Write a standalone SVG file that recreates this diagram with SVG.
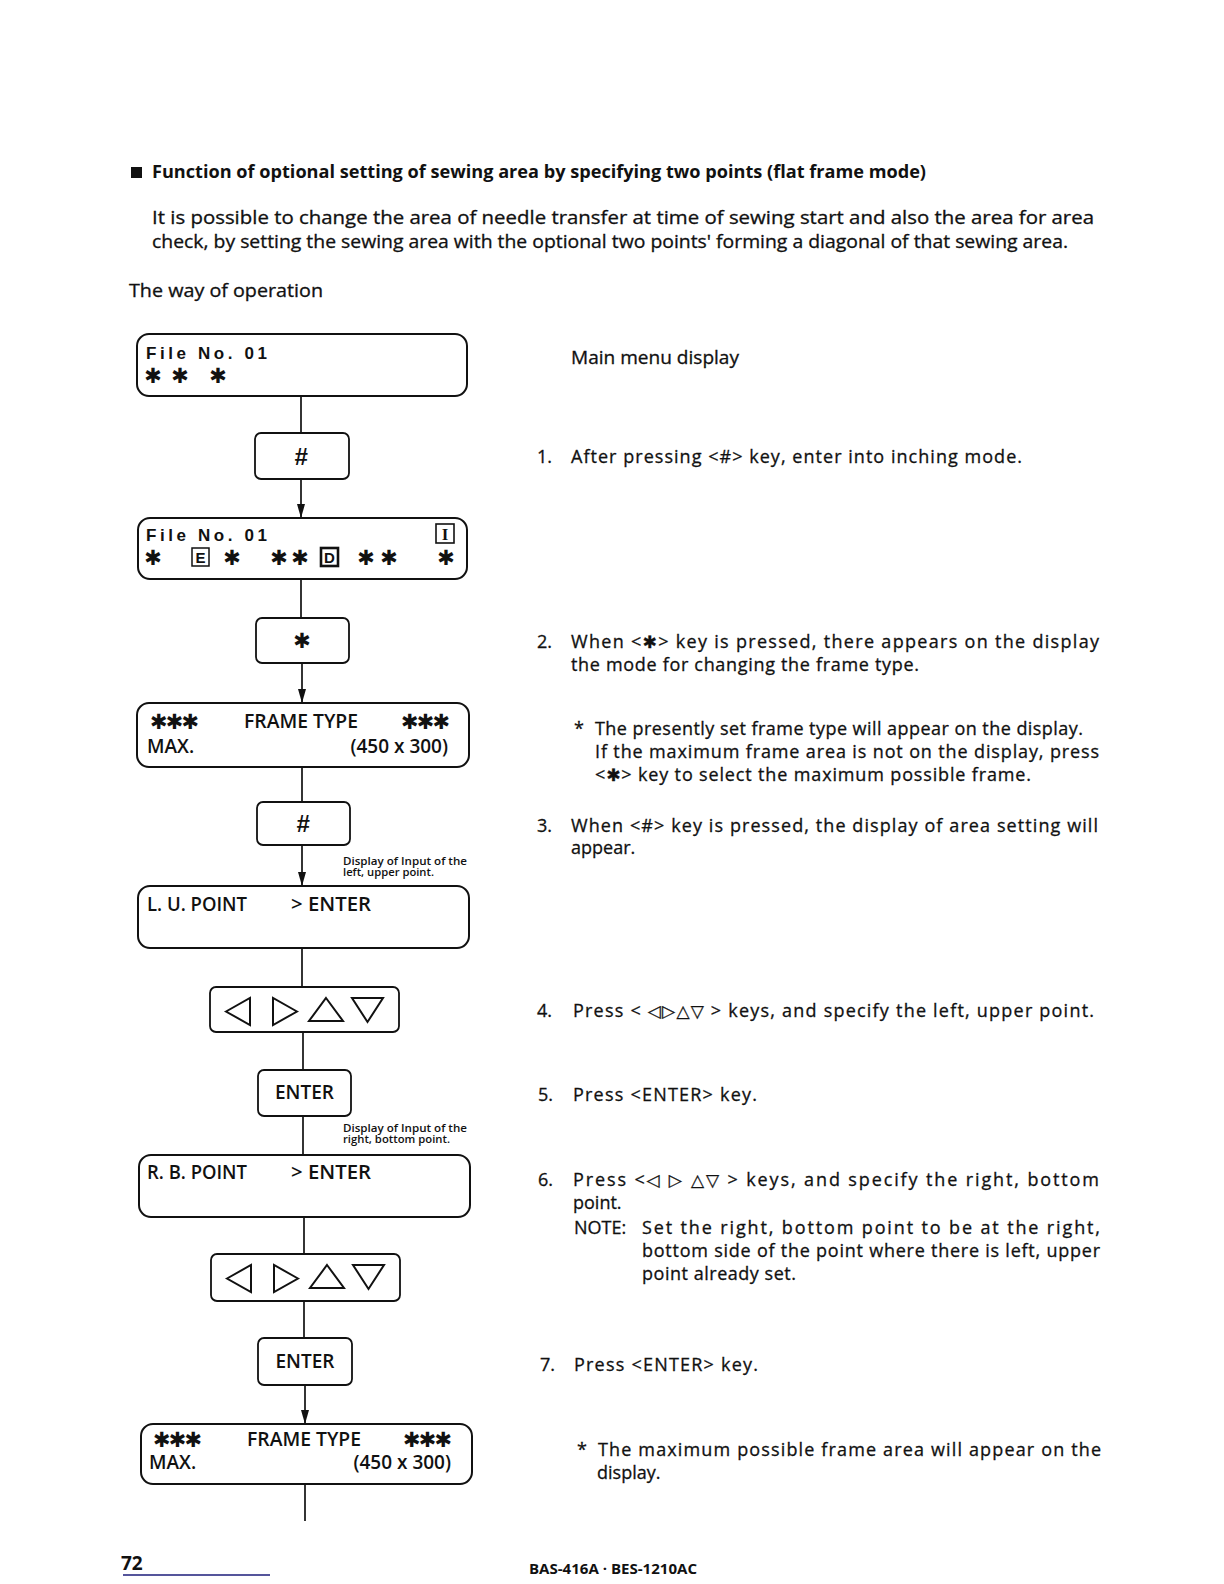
<svg xmlns="http://www.w3.org/2000/svg" width="1224" height="1584" viewBox="0 0 1224 1584">
<style>
.bg{fill:#fff}
.box{fill:#fff;stroke:#111;stroke-width:2}
.key{fill:#fff;stroke:#111;stroke-width:1.8}
.tri{fill:none;stroke:#111;stroke-width:2;stroke-linejoin:miter}
.conn line{stroke:#111;stroke-width:1.7}
.lcd{font-family:"Open Sans","Liberation Sans",sans-serif;font-size:19px;font-weight:600;fill:#111}
.fn{font-family:"Liberation Sans",Arial,sans-serif;font-size:17px;font-weight:bold;fill:#111}
.ast{font-family:"DejaVu Sans",sans-serif;font-size:21px;fill:#111}
.sym{font-family:"DejaVu Sans",sans-serif;font-size:17px}
.body{font-family:"Open Sans","Liberation Sans",sans-serif;font-size:18px;fill:#111;stroke:#111;stroke-width:0.3}
.title{font-family:"Open Sans","Liberation Sans",sans-serif;font-size:18px;font-weight:bold;fill:#111}
.note{font-family:"Open Sans","Liberation Sans",sans-serif;font-size:10.5px;font-weight:600;fill:#111}
.hash{font-family:"Liberation Sans",Arial,sans-serif;font-size:24px;font-weight:bold;font-style:italic;fill:#111}
.foot{font-family:"Open Sans","Liberation Sans",sans-serif;font-weight:bold;fill:#111}
</style>
<defs>
<marker id="ah" markerUnits="userSpaceOnUse" markerWidth="14" markerHeight="8" refX="14" refY="4" orient="auto" viewBox="0 0 14 8">
<path d="M0,0 L14,4 L0,8 Z" fill="#111"/>
</marker>
<g id="arrows4">
<polygon class="tri" points="226,1011.5 250,998 250,1025"/>
<polygon class="tri" points="297,1011.5 273,998 273,1025"/>
<polygon class="tri" points="326,998 343,1021 309,1021"/>
<polygon class="tri" points="352,998 383,998 367.5,1022"/>
</g>
</defs>
<rect class="bg" x="0" y="0" width="1224" height="1584"/>

<!-- Heading and intro text -->
<g id="heading">
<rect x="131" y="167" width="11" height="11" fill="#111"/>
<text class="title" x="152" y="178" textLength="774" lengthAdjust="spacingAndGlyphs">Function of optional setting of sewing area by specifying two points (flat frame mode)</text>
<text class="body" x="152" y="224" textLength="942" lengthAdjust="spacingAndGlyphs">It is possible to change the area of needle transfer at time of sewing start and also the area for area</text>
<text class="body" x="152" y="248" textLength="916" lengthAdjust="spacingAndGlyphs">check, by setting the sewing area with the optional two points' forming a diagonal of that sewing area.</text>
<text class="body" x="129" y="297" textLength="194" lengthAdjust="spacingAndGlyphs">The way of operation</text>
</g>

<!-- Connectors -->
<g id="connectors" class="conn">
<line x1="301" y1="396" x2="301" y2="433"/>
<line x1="301" y1="479" x2="301" y2="518" marker-end="url(#ah)"/>
<line x1="301" y1="579" x2="301" y2="618"/>
<line x1="302" y1="663" x2="302" y2="703" marker-end="url(#ah)"/>
<line x1="302" y1="767" x2="302" y2="802"/>
<line x1="302" y1="845" x2="302" y2="886" marker-end="url(#ah)"/>
<line x1="302" y1="948" x2="302" y2="987"/>
<line x1="303" y1="1032" x2="303" y2="1070"/>
<line x1="303" y1="1116" x2="303" y2="1155"/>
<line x1="304" y1="1217" x2="304" y2="1254"/>
<line x1="304" y1="1301" x2="304" y2="1338"/>
<line x1="305" y1="1385" x2="305" y2="1424" marker-end="url(#ah)"/>
<line x1="305" y1="1484" x2="305" y2="1521"/>
</g>

<!-- Display 1: main menu -->
<g id="display1">
<rect class="box" x="137" y="334" width="330" height="62" rx="12"/>
<text class="fn" x="146" y="359" textLength="121" lengthAdjust="spacing">File No. 01</text>
<text class="ast" x="153" y="383" text-anchor="middle">✱</text>
<text class="ast" x="180" y="383" text-anchor="middle">✱</text>
<text class="ast" x="218" y="383" text-anchor="middle">✱</text>
</g>

<g id="key-hash-1">
<rect class="key" x="255" y="433" width="94" height="46" rx="6"/>
<text class="hash" x="301" y="465" text-anchor="middle">#</text>
</g>

<!-- Display 2: inching mode -->
<g id="display2">
<rect class="box" x="138" y="518" width="329" height="61" rx="12"/>
<text class="fn" x="146" y="541" textLength="121" lengthAdjust="spacing">File No. 01</text>
<rect x="436" y="524" width="18" height="19" fill="none" stroke="#111" stroke-width="1.6"/>
<text x="445" y="540" text-anchor="middle" font-family="Liberation Serif,serif" font-size="17" font-weight="bold" fill="#111">I</text>
<text class="ast" x="153" y="565" text-anchor="middle">✱</text>
<rect x="192" y="548" width="17" height="18" fill="none" stroke="#111" stroke-width="1.5"/>
<text x="200.5" y="563" text-anchor="middle" font-family="Liberation Sans,Arial,sans-serif" font-size="15" font-weight="bold" fill="#111">E</text>
<text class="ast" x="232" y="565" text-anchor="middle">✱</text>
<text class="ast" x="279" y="565" text-anchor="middle">✱</text>
<text class="ast" x="300" y="565" text-anchor="middle">✱</text>
<rect x="321" y="548" width="17" height="18" fill="none" stroke="#111" stroke-width="2.6"/>
<text x="329.5" y="563" text-anchor="middle" font-family="Liberation Sans,Arial,sans-serif" font-size="15" font-weight="bold" fill="#111">D</text>
<text class="ast" x="366" y="565" text-anchor="middle">✱</text>
<text class="ast" x="389" y="565" text-anchor="middle">✱</text>
<text class="ast" x="446" y="565" text-anchor="middle">✱</text>
</g>

<g id="key-ast">
<rect class="key" x="256" y="618" width="93" height="45" rx="6"/>
<text class="ast" x="302" y="648" text-anchor="middle">✱</text>
</g>

<!-- Display 3: frame type -->
<g id="display3">
<rect class="box" x="137" y="703" width="332" height="64" rx="12"/>
<text class="ast" x="150" y="729" textLength="49" lengthAdjust="spacing">✱✱✱</text>
<text class="lcd" x="244" y="728" textLength="114" lengthAdjust="spacingAndGlyphs">FRAME TYPE</text>
<text class="ast" x="401" y="729" textLength="49" lengthAdjust="spacing">✱✱✱</text>
<text class="lcd" x="147" y="753">MAX.</text>
<text class="lcd" x="448" y="753" text-anchor="end">(450 x 300)</text>
</g>

<g id="key-hash-2">
<rect class="key" x="257" y="802" width="93" height="43" rx="6"/>
<text class="hash" x="303" y="832" text-anchor="middle">#</text>
</g>

<g id="note1">
<text class="note" x="343" y="865" textLength="124" lengthAdjust="spacingAndGlyphs">Display of Input of the</text>
<text class="note" x="343" y="876" textLength="91" lengthAdjust="spacingAndGlyphs">left, upper point.</text>
</g>

<!-- Display 4: left upper point -->
<g id="display4">
<rect class="box" x="138" y="886" width="331" height="62" rx="12"/>
<text class="lcd" x="147" y="911" textLength="100" lengthAdjust="spacingAndGlyphs">L. U. POINT</text>
<text class="lcd" x="291" y="911" textLength="80" lengthAdjust="spacingAndGlyphs">&gt; ENTER</text>
</g>

<g id="key-arrows-1">
<rect class="key" x="210" y="987" width="189" height="45" rx="6"/>
<use href="#arrows4"/>
</g>

<g id="key-enter-1">
<rect class="key" x="258" y="1070" width="93" height="46" rx="6"/>
<text class="lcd" x="304.5" y="1099" text-anchor="middle">ENTER</text>
</g>

<g id="note2">
<text class="note" x="343" y="1132" textLength="124" lengthAdjust="spacingAndGlyphs">Display of Input of the</text>
<text class="note" x="343" y="1143" textLength="107" lengthAdjust="spacingAndGlyphs">right, bottom point.</text>
</g>

<!-- Display 5: right bottom point -->
<g id="display5">
<rect class="box" x="139" y="1155" width="331" height="62" rx="12"/>
<text class="lcd" x="147" y="1179" textLength="100" lengthAdjust="spacingAndGlyphs">R. B. POINT</text>
<text class="lcd" x="291" y="1179" textLength="80" lengthAdjust="spacingAndGlyphs">&gt; ENTER</text>
</g>

<g id="key-arrows-2">
<rect class="key" x="211" y="1254" width="189" height="47" rx="6"/>
<use href="#arrows4" transform="translate(1,267)"/>
</g>

<g id="key-enter-2">
<rect class="key" x="258" y="1338" width="94" height="47" rx="6"/>
<text class="lcd" x="305" y="1368" text-anchor="middle">ENTER</text>
</g>

<!-- Display 6: frame type -->
<g id="display6">
<rect class="box" x="141" y="1424" width="331" height="60" rx="12"/>
<text class="ast" x="153" y="1447" textLength="49" lengthAdjust="spacing">✱✱✱</text>
<text class="lcd" x="247" y="1446" textLength="114" lengthAdjust="spacingAndGlyphs">FRAME TYPE</text>
<text class="ast" x="403" y="1447" textLength="49" lengthAdjust="spacing">✱✱✱</text>
<text class="lcd" x="149" y="1469">MAX.</text>
<text class="lcd" x="451" y="1469" text-anchor="end">(450 x 300)</text>
</g>

<!-- Explanations -->
<g id="explanations">
<text class="body" x="571" y="364" textLength="168" lengthAdjust="spacingAndGlyphs">Main menu display</text>

<text class="body" x="537" y="463">1.</text>
<text class="body" x="571" y="463" textLength="451" lengthAdjust="spacing">After pressing &lt;#&gt; key, enter into inching mode.</text>

<text class="body" x="537" y="648">2.</text>
<text class="body" x="571" y="648" textLength="528" lengthAdjust="spacing">When &lt;<tspan class="sym">✱</tspan>&gt; key is pressed, there appears on the display</text>
<text class="body" x="571" y="671" textLength="348" lengthAdjust="spacing">the mode for changing the frame type.</text>

<text class="body" x="574" y="735">*</text>
<text class="body" x="595" y="735" textLength="488" lengthAdjust="spacing">The presently set frame type will appear on the display.</text>
<text class="body" x="595" y="758" textLength="504" lengthAdjust="spacing">If the maximum frame area is not on the display, press</text>
<text class="body" x="595" y="781" textLength="436" lengthAdjust="spacing">&lt;<tspan class="sym">✱</tspan>&gt; key to select the maximum possible frame.</text>

<text class="body" x="537" y="832">3.</text>
<text class="body" x="571" y="832" textLength="527" lengthAdjust="spacing">When &lt;#&gt; key is pressed, the display of area setting will</text>
<text class="body" x="571" y="854">appear.</text>

<text class="body" x="537" y="1017">4.</text>
<text class="body" x="573" y="1017" textLength="521" lengthAdjust="spacing">Press &lt; <tspan class="sym">◁▷△▽</tspan> &gt; keys, and specify the left, upper point.</text>

<text class="body" x="538" y="1101">5.</text>
<text class="body" x="573" y="1101" textLength="184" lengthAdjust="spacing">Press &lt;ENTER&gt; key.</text>

<text class="body" x="538" y="1186">6.</text>
<text class="body" x="573" y="1186" textLength="526" lengthAdjust="spacing">Press &lt;<tspan class="sym">◁ ▷ △▽</tspan> &gt; keys, and specify the  right, bottom</text>
<text class="body" x="573" y="1209">point.</text>
<text class="body" x="574" y="1234">NOTE:</text>
<text class="body" x="642" y="1234" textLength="458" lengthAdjust="spacing">Set the right, bottom point to be at the right,</text>
<text class="body" x="642" y="1257" textLength="458" lengthAdjust="spacing">bottom side of the point where there is left, upper</text>
<text class="body" x="642" y="1280" textLength="154" lengthAdjust="spacing">point already set.</text>

<text class="body" x="540" y="1371">7.</text>
<text class="body" x="574" y="1371" textLength="184" lengthAdjust="spacing">Press &lt;ENTER&gt; key.</text>

<text class="body" x="577" y="1456">*</text>
<text class="body" x="598" y="1456" textLength="503" lengthAdjust="spacing">The maximum possible frame area will appear on the</text>
<text class="body" x="597" y="1479">display.</text>
</g>

<!-- Footer -->
<g id="footer">
<text class="foot" x="121" y="1570" font-size="19">72</text>
<line x1="123" y1="1575" x2="270" y2="1575" stroke="#1c1c7a" stroke-width="1.5"/>
<text class="foot" x="529" y="1574" font-size="14" textLength="168" lengthAdjust="spacingAndGlyphs">BAS-416A · BES-1210AC</text>
</g>
</svg>
